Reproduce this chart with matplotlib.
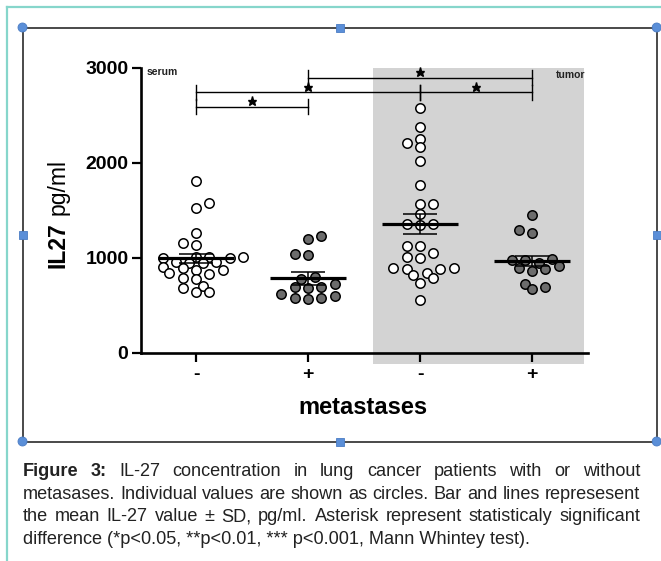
import numpy as np
import matplotlib
matplotlib.use("Agg")
import matplotlib.pyplot as plt
from matplotlib.patches import Rectangle, Circle

plt.rcParams['font.family'] = ['Liberation Sans', 'DejaVu Sans']

W, H = 661, 561

# ---- data (IL-27 pg/ml) ----
group_labels = ["-", "+", "-", "+"]
serum_neg = [1810, 1573, 1523, 1257, 1158, 1131,
             1012, 1008, 1004, 1000, 996, 958, 953, 948, 944,
             899, 888, 871, 871, 836, 825, 783, 772, 702, 684, 642, 636]
serum_pos = [1228, 1197, 1036, 1030, 800, 773, 723, 695, 695, 684,
             615, 597, 573, 573, 562]
tumor_neg = [2573, 2373, 2253, 2204, 2162, 2021, 1762, 1568, 1565, 1460,
             1355, 1350, 1345, 1125, 1118, 1053, 1004, 1000,
             892, 888, 878, 878, 842, 818, 783, 737, 555]
tumor_pos = [1449, 1292, 1257, 985, 978, 972, 941, 913, 888, 878, 863,
             723, 688, 667]
means = [993, 783, 1355, 965]
errs = [47, 66, 110, 48]
filled = [False, True, False, True]
# (group a, group b, bracket level)
brackets = [(0, 1, 2591), (0, 2, 2741), (2, 3, 2741), (1, 3, 2896)]

caption = [
    [("Figure", True), ("3:", True), ("IL-27", False), ("concentration", False),
     ("in", False), ("lung", False), ("cancer", False), ("patients", False),
     ("with", False), ("or", False), ("without", False)],
    "metasases. Individual values are shown as circles. Bar and lines represesent",
    "the mean IL-27 value \u00b1 SD, pg/ml. Asterisk represent statisticaly significant",
    "difference (*p<0.05, **p<0.01, *** p<0.001, Mann Whintey test).",
]

groups = [serum_neg, serum_pos, tumor_neg, tumor_pos]

# ---- layout (pixels) ----
ax_l, ax_r, ax_top, ax_bot = 141, 588, 67.7, 352.7
x0_px, dx_px = 196, 112          # first group centre, group spacing
y_px = (ax_bot - ax_top) / 3000.0


def swarm(vals, diam=8.5, step=6.7):
    # greedy Prism-like column layout, points may overlap a little;
    # when both sides are free, go to the side with fewer points
    vals = np.asarray(vals, float)
    offs = np.zeros(len(vals))
    placed = []

    def free(c, y):
        return all((c - px) ** 2 + (y - py) ** 2 >= diam ** 2 for px, py in placed)

    for i in np.argsort(vals):
        y = vals[i] * y_px
        c = 0.0
        if not free(0.0, y):
            for k in range(1, 15):
                pos, neg = free(k * step, y), free(-k * step, y)
                if pos and neg:
                    n_pos = sum(1 for px, _ in placed if px > 0)
                    n_neg = sum(1 for px, _ in placed if px < 0)
                    c = -k * step if n_neg < n_pos else k * step
                    break
                if pos or neg:
                    c = k * step if pos else -k * step
                    break
        placed.append((c, y))
        offs[i] = c
    return offs / dx_px


fig = plt.figure(figsize=(W / 100, H / 100), dpi=100)

# overlay in pixel coordinates: screenshot frame, handles, caption
ov = fig.add_axes([0, 0, 1, 1])
ov.set_xlim(0, W)
ov.set_ylim(H, 0)
ov.axis('off')
ov.plot([7.3, 7.3], [6.7, H], color='#86d6cb', lw=1.6)
ov.plot([7.3, W], [6.7, 6.7], color='#86d6cb', lw=1.6)
fx0, fx1, fy0, fy1 = 22.5, 656.7, 27.5, 441.5
ov.plot([fx0, fx1, fx1, fx0, fx0], [fy0, fy0, fy1, fy1, fy0], color='#4a4a4a', lw=1.4)
hcol, hedge = '#5b8fd8', '#4a7cc4'
for cx, cy in [(fx0, fy0), (fx1, fy0), (fx0, fy1), (fx1, fy1)]:
    ov.add_patch(Circle((cx, cy), 4.5, fc=hcol, ec=hedge, lw=0.6, zorder=5))
mx, my = (fx0 + fx1) / 2, (fy0 + fy1) / 2
for cx, cy in [(mx, fy0), (mx, fy1), (fx0, my), (fx1, my)]:
    ov.add_patch(Rectangle((cx - 4, cy - 4), 8, 8, fc=hcol, ec=hedge, lw=0.6, zorder=5))

# main plot
ax = fig.add_axes([ax_l / W, (H - ax_bot) / H, (ax_r - ax_l) / W, (ax_bot - ax_top) / H])
ax.set_zorder(2)
ax.patch.set_alpha(0)
ax.set_xlim((ax_l - x0_px) / dx_px, (ax_r - x0_px) / dx_px)
ax.set_ylim(0, 3000)

ax.add_patch(Rectangle(((373 - x0_px) / dx_px, -117), (584 - 373) / dx_px, 3117,
                       fc='#d3d3d3', ec='none', clip_on=False, zorder=0))

for i, vals in enumerate(groups):
    xs = i + swarm(vals)
    fc = '#6c6c6c' if filled[i] else 'white'
    ax.scatter(xs, vals, s=46, facecolor=fc, edgecolor='black', linewidths=1.1,
               zorder=3, clip_on=False)
    ax.hlines(means[i], i - 0.34, i + 0.34, color='black', lw=2.3, zorder=5)
    ax.errorbar(i, means[i], yerr=errs[i], fmt='none', ecolor='black',
                elinewidth=1.1, capsize=12, capthick=1.1, zorder=5)

tk = 80
for a, b, lvl in brackets:
    ax.plot([a, b], [lvl, lvl], color='black', lw=1.0, clip_on=False)
    for xe in (a, b):
        ax.plot([xe, xe], [lvl - tk, lvl + tk], color='black', lw=1.0, clip_on=False)
    ax.plot((a + b) / 2, lvl + 60, marker='*', ms=6.5, color='black',
            mec='black', clip_on=False, zorder=6)

for s in ['top', 'right']:
    ax.spines[s].set_visible(False)
for s in ['left', 'bottom']:
    ax.spines[s].set_linewidth(1.9)
ax.set_xticks(range(4), group_labels)
ax.set_yticks([0, 1000, 2000, 3000], ['0', '1000', '2000', '3000'])
ax.tick_params(axis='both', width=1.6, length=6.5, labelsize=14, pad=2.5)
ax.tick_params(axis='x', pad=3)
for lbl in ax.get_xticklabels() + ax.get_yticklabels():
    lbl.set_fontweight('bold')

ax.text((147 - x0_px) / dx_px, 2950, 'serum', fontsize=7.5, fontweight='bold',
        ha='left', va='center', color='#222222')
ax.text((585 - x0_px) / dx_px, 2925, 'tumor', fontsize=7.5, fontweight='bold',
        ha='right', va='center', color='#222222')

# axis titles (pixel coords on overlay)
ov.text(65, 222, 'IL27', rotation=90, rotation_mode='anchor', ha='right',
        va='baseline', fontsize=16.5, fontweight='bold')
ov.text(65, 215, 'pg/ml', rotation=90, rotation_mode='anchor', ha='left',
        va='baseline', fontsize=16.5)
ov.text(363, 413.5, 'metastases', ha='center', va='baseline', fontsize=17,
        fontweight='bold')

# caption, justified between left and right edges
cx0, cx1 = 22.7, 640.0
baselines = [476, 498.5, 521, 543.5]
r = fig.canvas.get_renderer()
probe = ov.text(0, 0, caption[1], fontsize=12)
fs = 12 * (cx1 - cx0) / probe.get_window_extent(r).width
probe.remove()

for li, line in enumerate(caption):
    if isinstance(line, str):
        words = [(w, False) for w in line.split(' ')]
    else:
        words = line
    yb = baselines[li]
    if li == len(caption) - 1:
        ov.text(cx0, yb, line, fontsize=fs, ha='left', va='baseline', color='#222222')
        continue
    arts = [ov.text(0, yb, w, fontsize=fs, ha='left', va='baseline', color='#222222',
                    fontweight='bold' if b else 'normal') for w, b in words]
    widths = [t.get_window_extent(r).width for t in arts]
    gap = (cx1 - cx0 - sum(widths)) / (len(arts) - 1)
    x = cx0
    for t, w in zip(arts, widths):
        t.set_x(x)
        x += w + gap

fig.savefig('out.png', dpi=100)
